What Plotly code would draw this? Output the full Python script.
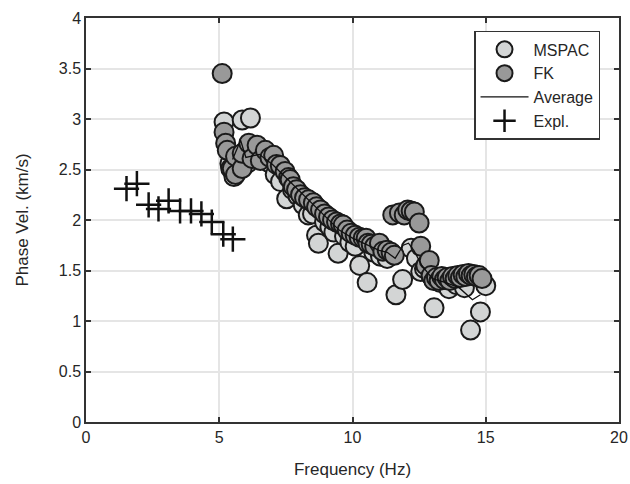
import plotly.graph_objects as go

# MSPAC (light gray circles)
mspac_f = [5.18, 5.86, 6.17, 5.55, 5.40, 5.72, 6.05, 6.45, 6.85, 7.10, 7.30, 7.53, 7.75, 7.95,
           8.15, 8.34, 8.50, 8.65, 8.72, 8.95, 9.15, 9.30, 9.46, 9.70, 9.90, 10.10, 10.27, 10.55,
           10.80, 11.05, 11.30, 11.63, 11.88, 12.20, 12.40, 12.56, 12.70, 12.95, 13.06, 13.30,
           13.62, 13.90, 14.20, 14.43, 14.80, 15.00]
mspac_v = [2.97, 2.99, 3.01, 2.43, 2.56, 2.58, 2.56, 2.62, 2.57, 2.45, 2.38, 2.21, 2.30, 2.24,
           2.15, 2.05, 2.06, 1.85, 1.77, 1.98, 1.93, 1.88, 1.67, 1.84, 1.78, 1.74, 1.55, 1.38,
           1.68, 1.64, 1.62, 1.26, 1.41, 1.72, 1.62, 1.49, 1.52, 1.45, 1.13, 1.38,
           1.32, 1.36, 1.33, 0.91, 1.09, 1.35]

# FK (dark gray circles)
fk_f = [5.11, 5.18, 5.24, 5.30, 5.43, 5.49, 5.61, 5.61, 5.86, 5.86, 6.11, 6.23, 6.42, 6.54,
        6.73, 6.90, 7.04, 7.15, 7.29, 7.47, 7.60, 7.66, 7.78, 7.90, 8.05, 8.20, 8.35, 8.53,
        8.65, 8.80, 8.95, 9.10, 9.25, 9.40, 9.55, 9.65, 9.80, 9.95, 10.10, 10.25, 10.40, 10.51,
        10.58, 10.70, 10.83, 11.01, 11.14, 11.30, 11.45, 11.57, 11.51, 11.76, 11.94, 12.07,
        12.20, 12.32, 12.50, 12.56, 12.75, 12.88, 12.95, 13.05, 13.15, 13.25, 13.35, 13.45,
        13.55, 13.65, 13.75, 13.85, 13.95, 14.05, 14.15, 14.25, 14.35, 14.45, 14.55, 14.65,
        14.75, 14.86]
fk_v = [3.45, 2.87, 2.76, 2.69, 2.51, 2.51, 2.45, 2.63, 2.51, 2.66, 2.76, 2.61, 2.74, 2.59,
        2.69, 2.62, 2.64, 2.55, 2.54, 2.48, 2.42, 2.40, 2.33, 2.30, 2.25, 2.22, 2.20, 2.17,
        2.13, 2.10, 2.06, 2.03, 2.00, 1.98, 1.96, 1.95, 1.90, 1.87, 1.85, 1.83, 1.82, 1.82,
        1.77, 1.76, 1.74, 1.77, 1.69, 1.70, 1.68, 1.65, 2.05, 2.07, 2.05, 2.10,
        2.09, 2.08, 1.97, 1.74, 1.55, 1.60, 1.45, 1.40, 1.43, 1.40, 1.44, 1.41,
        1.43, 1.40, 1.44, 1.42, 1.45, 1.43, 1.46, 1.44, 1.47, 1.45, 1.46, 1.44,
        1.45, 1.42]

# Average curve
avg_f = [5.5, 5.8, 6.0, 6.5, 7.0, 7.5, 8.0, 8.5, 9.0, 9.5, 10.0, 10.5, 11.0, 11.3, 11.6,
         11.9, 12.1, 12.3, 12.6, 13.0, 13.5, 14.0, 14.2, 14.5, 14.8]
avg_v = [2.60, 2.79, 2.62, 2.65, 2.55, 2.42, 2.28, 2.15, 2.02, 1.90, 1.82, 1.76, 1.70, 1.68, 1.62,
         1.75, 1.77, 1.70, 1.55, 1.42, 1.38, 1.33, 1.28, 1.21, 1.26]

# Expl. (crosses)
expl_f = [1.52, 1.91, 2.35, 2.72, 3.10, 3.53, 3.94, 4.33, 4.72, 5.15, 5.51]
expl_v = [2.31, 2.36, 2.15, 2.11, 2.19, 2.09, 2.09, 2.06, 1.98, 1.86, 1.81]

x_ticks = [0, 5, 10, 15, 20]
y_ticks = [0, 0.5, 1, 1.5, 2, 2.5, 3, 3.5, 4]
y_labels = ["0", "0.5", "1", "1.5", "2", "2.5", "3", "3.5", "4"]

edge = "#1a1a1a"
fig = go.Figure()
fig.add_trace(go.Scatter(x=mspac_f, y=mspac_v, mode="markers", name="MSPAC",
                         marker=dict(symbol="circle", size=19, color="#d3d5d5",
                                     line=dict(color=edge, width=2))))
fig.add_trace(go.Scatter(x=fk_f, y=fk_v, mode="markers", name="FK",
                         marker=dict(symbol="circle", size=19, color="#999999",
                                     line=dict(color=edge, width=2))))
fig.add_trace(go.Scatter(x=avg_f, y=avg_v, mode="lines", name="Average",
                         line=dict(color="#111111", width=1.3)))
fig.add_trace(go.Scatter(x=expl_f, y=expl_v, mode="markers", name="Expl.",
                         marker=dict(symbol="cross-thin", size=18,
                                     line=dict(color="#111111", width=2.5))))

axis_common = dict(showline=True, linecolor="#333333", linewidth=1.5, mirror="ticks",
                   ticks="inside", ticklen=5, tickcolor="#333333", tickwidth=1.5,
                   showgrid=True, gridcolor="#e5e5e5", gridwidth=1.5, zeroline=False,
                   automargin=False, ticklabeloverflow="allow",
                   tickfont=dict(size=16, color="#262626"),
                   title_font=dict(size=17, color="#262626"))

fig.update_xaxes(range=[0, 20], tickvals=x_ticks, ticktext=[str(t) for t in x_ticks],
                 title_text="Frequency (Hz)", title_standoff=18, **axis_common)
fig.update_yaxes(range=[0, 4], tickvals=y_ticks, ticktext=y_labels,
                 title_text="Phase Vel. (km/s)", title_standoff=26, **axis_common)

fig.update_layout(
    width=630, height=484,
    margin=dict(l=86, r=11, t=18, b=62),
    plot_bgcolor="white", paper_bgcolor="white",
    font=dict(family="Liberation Sans, Arial, sans-serif", color="#262626"),
    showlegend=True,
    legend=dict(x=0.728, y=0.968, xanchor="left", yanchor="top",
                bgcolor="white", bordercolor="#333333", borderwidth=1.5,
                itemwidth=48,
                font=dict(size=16, color="#262626"), itemsizing="trace"),
)

fig.write_html("out.html", config={"displayModeBar": False},
               post_script="document.body.style.margin='0';document.body.style.overflow='hidden';")
